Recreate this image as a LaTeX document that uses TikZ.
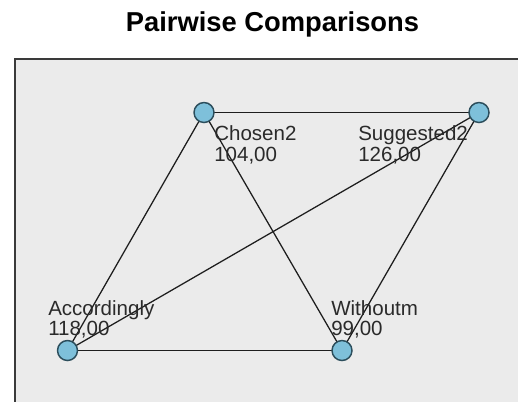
\documentclass[tikz,border=0pt]{standalone}
\usepackage{fontspec}
\setmainfont{Liberation Sans}
\definecolor{panelfill}{HTML}{EBEBEB}
\definecolor{panelline}{HTML}{3A3A3A}
\definecolor{nodefill}{HTML}{7EC0DA}
\definecolor{nodeline}{HTML}{2C4E5C}
\definecolor{edgecol}{HTML}{1E1E1E}
\definecolor{txtcol}{HTML}{2A2A2A}
\tikzset{
  vertex/.style={circle, fill=nodefill, draw=nodeline, line width=1.1pt,
    minimum size=15pt, inner sep=0pt},
  edge/.style={draw=edgecol, line width=0.95pt},
  lbl/.style={anchor=base west, inner sep=0pt, text=txtcol,
    font=\fontsize{15.4pt}{18pt}\selectfont},
}
\begin{document}
\begin{tikzpicture}[x=0.75pt, y=-0.75pt]
  \useasboundingbox (0,0) rectangle (518,401);
  \fill[white] (0,0) rectangle (518,401);
  % plot panel (runs off the right and bottom edges)
  \fill[panelfill] (15,58.5) rectangle (530,410);
  \draw[panelline, line width=1.5pt] (15,410) -- (15,58.5) -- (530,58.5);
  % title
  \node[anchor=base, inner sep=0pt, font=\fontsize{20.5pt}{24pt}\selectfont\bfseries, text=black]
    (title) at (272.5,31) {Pairwise Comparisons};
  % vertices
  \coordinate (pC) at (204,112.5);
  \coordinate (pS) at (479,112.5);
  \coordinate (pA) at (67.5,350.5);
  \coordinate (pW) at (342,350.5);
  % edges
  \draw[edge] (pC) -- (pS);
  \draw[edge] (pC) -- (pA);
  \draw[edge] (pC) -- (pW);
  \draw[edge] (pS) -- (pA);
  \draw[edge] (pS) -- (pW);
  \draw[edge] (pA) -- (pW);
  % vertex markers
  \node[vertex] (chosen) at (pC) {};
  \node[vertex] (suggested) at (pS) {};
  \node[vertex] (accordingly) at (pA) {};
  \node[vertex] (withoutm) at (pW) {};
  % labels
  \node[lbl] (chosenName) at (214,140.5) {Chosen2};
  \node[lbl] (chosenVal) at (214,161) {104,00};
  \node[lbl] (suggestedName) at (358,140.5) {Suggested2};
  \node[lbl] (suggestedVal) at (358,161) {126,00};
  \node[lbl] (accordinglyName) at (48,315) {Accordingly};
  \node[lbl] (accordinglyVal) at (48,335) {118,00};
  \node[lbl] (withoutmName) at (331,315) {Withoutm};
  \node[lbl] (withoutmVal) at (331,335) {99,00};
\end{tikzpicture}
\end{document}
